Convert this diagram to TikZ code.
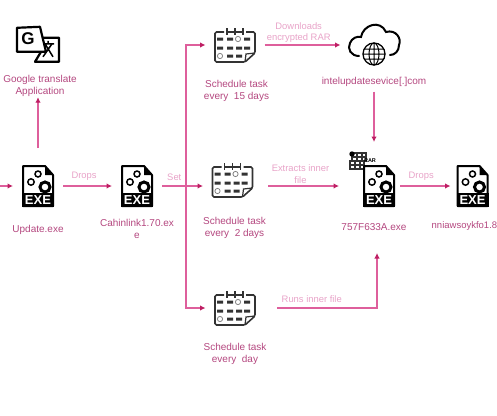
\documentclass[tikz,border=0pt]{standalone}
\usepackage{fontspec}
\setmainfont{Liberation Sans}
\usetikzlibrary{arrows.meta,positioning}

\definecolor{namepink}{HTML}{B4477F}
\definecolor{tagpink}{HTML}{E8A3C8}
\definecolor{linepink}{HTML}{DE5F9C}
\definecolor{tippink}{HTML}{BE1E63}
\definecolor{caldark}{HTML}{333333}

\tikzset{
  exefile/.pic={
    \draw[line width=2pt, fill=white, line join=round] (-15,-20) -- (7,-20) -- (15,-11) -- (15,20) -- (-15,20) -- cycle;
    \fill (7,-20) -- (7,-11) -- (15,-11) -- cycle;
    \fill (-16,7) rectangle (16,21);
    \draw[line width=1.5pt] (0,-12) circle (3) (-7,-4) circle (3.2);
    \draw[line width=3pt] (7,1) circle (5);
    \node[inner sep=0pt, text=white, font=\fontsize{13}{13}\bfseries\selectfont] (-mark) at (0,14) {EXE};
  },
  calsheet/.pic={
    \draw[caldark, line width=1.6pt, rounded corners=1.5pt] (-11,-13) -- (-20,-13) -- (-20,17) -- (10,17) -- (20,8) -- (20,-13) -- (11,-13);
    \draw[caldark, line width=1.2pt] (-8,-17) -- (-8,-10) (0,-17) -- (0,-10) (8,-17) -- (8,-10) (-8,-13) -- (8,-13);
    \draw[caldark, line width=1.2pt] (10,17) -- (11,9) -- (20,8);
    \fill[caldark] (-18,-7.5) rectangle ++(6,3) (-8,-7.5) rectangle ++(6,3) (9,-7.5) rectangle ++(6,3)
      (-18,1.5) rectangle ++(6,3) (-8,1.5) rectangle ++(6,3) (1,1.5) rectangle ++(6,3) (9,1.5) rectangle ++(6,3)
      (-8,9.5) rectangle ++(6,3) (1,9.5) rectangle ++(6,3);
    \draw[gray, line width=.8pt] (3,-6) circle (2.6) (-15,11) circle (2.6);
  },
  cloudnet/.pic={
    \draw[line width=2pt, line cap=round] (-15,11) .. controls (-23,11) and (-27,4) .. (-24,-2)
      .. controls (-22,-7) and (-17,-9) .. (-13,-8) .. controls (-11,-20) and (6,-26) .. (12,-13)
      .. controls (22,-16) and (28,-6) .. (25,0) .. controls (25,6) and (21,10) .. (16,10);
    \draw[fill=white, line width=1.3pt] (0,9) circle (11);
    \draw[line width=1pt] (0,9) ellipse (5 and 11) (0,-2) -- (0,20) (-11,9) -- (11,9) (-9.5,4) -- (9.5,4) (-9.5,14) -- (9.5,14);
  },
  translategl/.pic={
    \draw[line width=2.2pt, line join=round] (2,-7) -- (21,-7) -- (21,17) -- (-3,17) -- (3,7);
    \draw[line width=2.2pt, fill=white, line join=round] (-21,-17) -- (2,-18) -- (8,7) -- (-21,7) -- cycle;
    \node[inner sep=0pt, font=\fontsize{17}{17}\bfseries\selectfont] (-letter) at (-10,-6) {G};
    \draw[line width=1.5pt] (5,-1) -- (16,-1) (10,-4) -- (10,-1) (7,-1) -- (15,12) (14,-1) -- (5,12);
  },
  rarpile/.pic={
    \draw[caldark, line width=1.2pt] (-11,-7) rectangle (3,1) (-6,-7) -- (-6,1) (-1,-7) -- (-1,1) (-11,-3) -- (3,-3)
      (-13,1) rectangle (1,9) (-8,1) -- (-8,9) (-3,1) -- (-3,9) (-13,5) -- (1,5);
    \fill (-11,-6) circle (2.7);
    \node[inner sep=0pt, font=\fontsize{5.5}{6}\bfseries\selectfont] (-mark) at (7,1) {RAR};
  }
}

\begin{document}
\begin{tikzpicture}[
  x=1pt, y=-1pt,
  exenode/.style={minimum width=32pt, minimum height=42pt, inner sep=0pt, outer sep=9pt},
  calnode/.style={minimum width=41pt, minimum height=34pt, inner sep=0pt, outer sep=9pt},
  namelbl/.style={align=center, inner sep=0pt, text=namepink, font=\fontsize{10}{12.5}\selectfont},
  taglbl/.style={align=center, inner sep=0pt, text=tagpink, font=\fontsize{9.4}{11.5}\selectfont},
  flow/.style={draw=linepink, line width=1.1pt, -{Latex[length=5.5pt,width=5.5pt,color=tippink]}},
  every edge/.style={flow}
]
\useasboundingbox (0,0) rectangle (497,415);
\coordinate (leadin) at (0,186);
\node[exenode] (update) at (38,186) {};
\node[exenode, right=49pt of update] (cahin) {};
\node[calnode, right=41pt of cahin, yshift=6pt] (calmid) {};
\node[calnode, above=83pt of calmid, xshift=2.5pt] (caltop) {};
\node[calnode, below=76pt of calmid, xshift=2.5pt] (calbot) {};
\node[minimum width=51pt, minimum height=42pt, inner sep=0pt, outer sep=8pt, right=76pt of caltop] (cloud) {};
\node[exenode, outer sep=5pt, right=96pt of calmid, yshift=-6pt] (rarexe) {};
\node[exenode, outer sep=6pt, right=50.5pt of rarexe] (nniaw) {};
\node[minimum width=26pt, minimum height=18pt, inner sep=0pt, outer sep=9pt, above=-18pt of rarexe, xshift=-16pt] (rarstack) {};
\node[minimum width=44pt, minimum height=36pt, inner sep=0pt, above=93pt of update] (gtrans) {};
\coordinate[right=24pt of cahin] (branch);
\coordinate[left=19pt of rarexe] (rarin);
\coordinate[below=41pt of rarexe, xshift=-2pt] (runsin);

\pic (update) at (update) {exefile};
\pic (cahin) at (cahin) {exefile};
\pic (rarstack) at (rarstack) {rarpile};
\pic (rarexe) at (rarexe) {exefile};
\pic (nniaw) at (nniaw) {exefile};
\pic (caltop) at (caltop) {calsheet};
\pic (calmid) at (calmid) {calsheet};
\pic (calbot) at (calbot) {calsheet};
\pic (cloud) at (cloud) {cloudnet};
\pic (gtrans) at (gtrans) {translategl};

\node[namelbl, below=12pt of gtrans, xshift=2pt] (gtranslbl) {Google translate\\Application};
\node[namelbl, below=9pt of update] (updatelbl) {Update.exe};
\node[namelbl, below=3pt of cahin] (cahinlbl) {Cahinlink1.70.ex\\e};
\node[namelbl, below=9pt of caltop, xshift=1.5pt] (caltoplbl) {Schedule task\\every\ \ 15 days};
\node[namelbl, below=11pt of calmid, xshift=2pt] (calmidlbl) {Schedule task\\every\ \ 2 days};
\node[namelbl, below=9pt of calbot] (calbotlbl) {Schedule task\\every\ \ day};
\node[namelbl, below=3pt of cloud] (cloudlbl) {intelupdatesevice[.]com};
\node[namelbl, below=11pt of rarexe, xshift=-5pt] (rarexelbl) {757F633A.exe};
\node[namelbl, font=\fontsize{9.5}{12.5}\selectfont, below right=8pt and -19pt of nniaw.south west] (nniawlbl) {nniawsoykfo1.8};

\path (leadin) edge (update.west)
      (update.east) edge node[taglbl, above=5pt, pos=.43] {Drops} (cahin.west)
      (cahin.east) edge node[taglbl, above=5pt, pos=.3] {Set} (cahin.east -| calmid.west)
      (update.north) edge[shorten <=8pt] (update.north |- gtranslbl.south)
      (caltop.east) edge node[taglbl, above=2pt, pos=.45] {Downloads\\encrypted RAR} (cloud.west)
      (calmid.east |- rarin) edge[shorten <=6pt] node[taglbl, above=2pt, pos=.5] {Extracts inner\\file} (rarin)
      (cloudlbl.south) edge[shorten <=5pt] (cloudlbl.south |- rarstack.north)
      (rarexe.east) edge node[taglbl, above=5pt, pos=.42] {Drops} (nniaw.west);
\draw[flow] (branch) |- (caltop.west);
\draw[flow] (branch) |- (calbot.west);
\draw[flow, shorten <=12.5pt] (calbot.east) -| node[taglbl, above=5pt, pos=.21] {Runs inner file} (runsin);
\end{tikzpicture}
\end{document}
